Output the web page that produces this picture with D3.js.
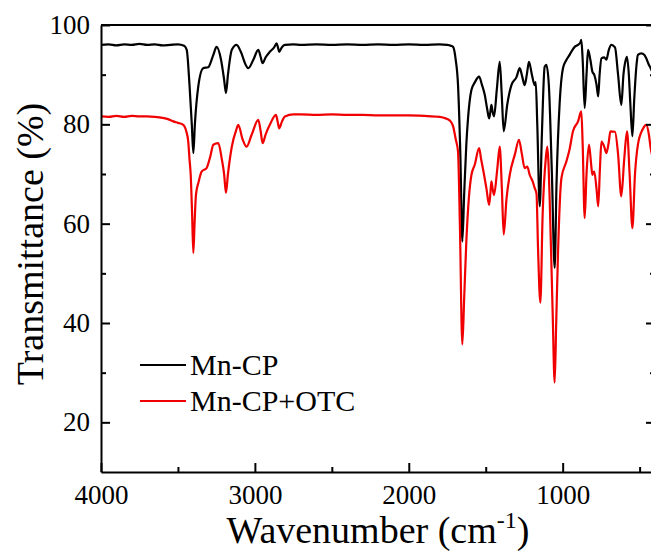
<!DOCTYPE html>
<html>
<head>
<meta charset="utf-8">
<script src="https://cdn.jsdelivr.net/npm/d3@7"></script>
</head>
<body style="margin:0">
<svg id="chart" width="651" height="556"></svg>
<script>
// Data: wavenumber (cm-1) and transmittance (%)
const mnWn = [4000, 3950, 3900, 3850, 3800, 3750, 3700, 3650, 3600, 3550, 3500, 3460, 3443, 3425, 3410, 3400, 3390, 3368, 3336, 3303,
  3270, 3249, 3220, 3200, 3188, 3175, 3150, 3119, 3090, 3060, 3043, 3010, 2978, 2962, 2950, 2930, 2903, 2875, 2859, 2850,
  2842, 2825, 2805, 2750, 2700, 2600, 2500, 2400, 2300, 2200, 2100, 2000, 1900, 1800, 1750, 1725, 1712, 1695, 1680, 1665,
  1652, 1640, 1626, 1615, 1593, 1570, 1543, 1525, 1506, 1490, 1478, 1470, 1463, 1455, 1446, 1428, 1409, 1396, 1383, 1360,
  1333, 1300, 1279, 1262, 1247, 1233, 1219, 1200, 1182, 1175, 1165, 1149, 1135, 1117, 1106, 1090, 1070, 1052, 1040, 1019,
  998, 975, 955, 922, 900, 885, 879, 870, 857, 845, 835, 820, 807, 795, 780, 769, 760, 748, 730, 716,
  700, 684, 660, 640, 619, 605, 590, 582, 570, 560, 547, 535, 520, 511, 489, 470, 457, 440, 428, 400]
const mnT = [96.0, 96.1, 95.9, 96.1, 96.0, 96.2, 96.0, 96.1, 95.9, 96.0, 96.1, 95.8, 95.0, 88, 80, 74.2, 80, 87.6, 91.3, 91.5,
  94, 95.6, 93, 89, 86.3, 90, 95, 96.0, 94.5, 92, 91.3, 93, 95.0, 93.5, 92.3, 93.5, 94.6, 95.5, 96.3, 95.5,
  94.6, 95.5, 96.0, 96.1, 96.0, 96.1, 96.0, 96.1, 96.0, 96.1, 96.0, 96.1, 96.0, 96.1, 96.0, 95.8, 95.6, 93, 87.9, 74,
  56.4, 66, 76, 81.2, 86.9, 88.5, 89.6, 88, 85.9, 83, 81.2, 82.5, 83.9, 82.5, 81.6, 87, 92.6, 86, 78.6, 84,
  87.9, 89.5, 91.3, 89.5, 87.9, 90, 92.6, 90, 87.9, 88.5, 80, 63.5, 78, 91.6, 92.0, 88, 70, 51.1, 68, 84.6,
  91.3, 93, 94.0, 95.6, 96, 96.5, 97.0, 93, 83.3, 90, 95.0, 93, 90.6, 90, 88, 85.6, 90, 93.3, 93.5, 93,
  95, 96.0, 95.5, 90, 83.9, 90, 93, 93.6, 90, 84, 77.6, 85, 92, 94.0, 94.3, 94, 93.3, 92, 91.3, 89]

const otcWn = [4000, 3950, 3900, 3850, 3800, 3750, 3700, 3650, 3600, 3560, 3530, 3500, 3466, 3445, 3433, 3425, 3417, 3408, 3400, 3392,
  3383, 3365, 3346, 3314, 3290, 3270, 3238, 3215, 3200, 3188, 3175, 3150, 3120, 3108, 3080, 3054, 3020, 2978, 2962, 2950,
  2930, 2903, 2863, 2852, 2842, 2825, 2805, 2750, 2700, 2600, 2500, 2400, 2300, 2200, 2100, 2000, 1900, 1800, 1760, 1735,
  1722, 1712, 1695, 1680, 1668, 1652, 1640, 1626, 1610, 1593, 1571, 1543, 1530, 1517, 1495, 1478, 1470, 1463, 1455, 1446,
  1425, 1409, 1395, 1383, 1365, 1344, 1310, 1284, 1265, 1247, 1230, 1214, 1195, 1182, 1170, 1160, 1145, 1130, 1110, 1100,
  1092, 1084, 1065, 1052, 1042, 1030, 1008, 976, 955, 933, 900, 879, 870, 857, 845, 829, 815, 807, 795, 780,
  769, 758, 748, 730, 716, 700, 690, 660, 640, 619, 600, 582, 565, 547, 530, 511, 480, 457, 440, 428, 400]
const otcT = [81.6, 81.5, 81.7, 81.5, 81.7, 81.6, 81.6, 81.5, 81.3, 81, 80.6, 80.3, 79.9, 78.5, 76.5, 73, 69.8, 62, 54.1, 60,
  65.8, 68.5, 70.5, 71.2, 73.5, 75.9, 76.2, 73, 70, 66.2, 70, 75.5, 79, 79.9, 77, 75.5, 78, 80.9, 78.5, 76.2,
  78, 79.9, 81.9, 80.5, 79.2, 80.5, 81.6, 82.0, 82.0, 81.9, 82.0, 81.9, 81.9, 81.8, 81.8, 81.8, 81.7, 81.5, 81.2, 80.8,
  80.3, 79.6, 77, 74.5, 60, 35.7, 45, 56.4, 65, 69.8, 71.9, 75.2, 73, 70.9, 67, 63.8, 66, 68.5, 67, 65.8,
  71, 75.5, 67, 57.8, 65, 69.8, 74, 76.9, 74, 71.2, 71.5, 69.8, 68.5, 67.2, 66, 55, 44.1, 62, 73, 75.5,
  72, 64.5, 42, 28, 40, 54.4, 69.2, 72.5, 75, 78.6, 80.6, 82.6, 76, 61.1, 70, 75.9, 72, 69.8, 70.5, 67,
  63.5, 71, 76.5, 75.5, 74.2, 76.5, 78.6, 78.5, 74, 65.5, 73, 78.6, 70, 59.1, 70, 75.9, 79, 79.9, 78, 75.2, 72]

const seriesNames = ['Mn-CP', 'Mn-CP+OTC']
const seriesColors = ['#000000', '#f00000']
const xMajorTicks = [4000, 3000, 2000, 1000]
const xMinorTicks = [3500, 2500, 1500, 500]
const yMajorTicks = [20, 40, 60, 80, 100]
const yMinorTicks = [30, 50, 70, 90]

const dims = { width: 651, height: 556, left: 101, top: 25, right: 655, bottom: 472 }

const series = [
  mnWn.map((w, i) => ({ wn: w, t: mnT[i] })),
  otcWn.map((w, i) => ({ wn: w, t: otcT[i] }))
]

const xScale = d3.scaleLinear().domain([4000, 400]).range([dims.left, dims.right])
const yScale = d3.scaleLinear().domain([10, 100]).range([dims.bottom, dims.top])

const svg = d3.select('#chart')

svg.append('clipPath').attr('id', 'plotClip')
  .append('rect')
  .attr('x', dims.left).attr('y', dims.top)
  .attr('width', dims.right - dims.left).attr('height', dims.bottom - dims.top)

const lineGen = d3.line()
  .curve(d3.curveMonotoneX)
  .x(d => xScale(d.wn))
  .y(d => yScale(d.t))

const lineGroup = svg.append('g').attr('clip-path', 'url(#plotClip)')
series.forEach((s, i) => {
  lineGroup.append('path')
    .datum(s)
    .attr('d', lineGen)
    .attr('fill', 'none')
    .attr('stroke', seriesColors[i])
    .attr('stroke-width', 2.2)
    .attr('stroke-linejoin', 'round')
})

// axes, ticks pointing inward
const fmt = d3.format('d')
const addAxis = (axis, transform, minor) => {
  const g = svg.append('g')
    .attr('transform', transform)
    .call(axis)
  if (minor) g.select('.domain').remove()
  g.selectAll('path, line').attr('stroke', '#000').attr('stroke-width', 2)
  return g
}
addAxis(d3.axisBottom(xScale).tickValues(xMajorTicks).tickFormat(fmt).tickSize(-9).tickPadding(13).tickSizeOuter(0), `translate(0,${dims.bottom})`)
addAxis(d3.axisBottom(xScale).tickValues(xMinorTicks).tickSize(-5).tickFormat('').tickSizeOuter(0), `translate(0,${dims.bottom})`, true)
addAxis(d3.axisLeft(yScale).tickValues(yMajorTicks).tickFormat(fmt).tickSize(-9).tickPadding(11).tickSizeOuter(0), `translate(${dims.left},0)`)
addAxis(d3.axisLeft(yScale).tickValues(yMinorTicks).tickSize(-5).tickFormat('').tickSizeOuter(0), `translate(${dims.left},0)`, true)
// right axis (mirror)
addAxis(d3.axisRight(yScale).tickValues(yMajorTicks).tickSize(-9).tickFormat('').tickSizeOuter(0), `translate(${dims.right},0)`)
addAxis(d3.axisRight(yScale).tickValues(yMinorTicks).tickSize(-5).tickFormat('').tickSizeOuter(0), `translate(${dims.right},0)`, true)

svg.selectAll('g').attr('font-family', null).attr('font-size', null)
svg.selectAll('g text').style('font-size', '27px')

// top frame
svg.append('line')
  .attr('x1', dims.left).attr('x2', dims.right)
  .attr('y1', dims.top).attr('y2', dims.top)
  .attr('stroke', '#000').attr('stroke-width', 2)

// axis titles
const xLabel = svg.append('text')
  .attr('x', (dims.left + dims.right) / 2)
  .attr('y', 543)
  .attr('text-anchor', 'middle')
  .style('font-size', '38px')
xLabel.append('tspan').text('Wavenumber (cm')
xLabel.append('tspan').text('-1').style('font-size', '24px').attr('dy', -15)
xLabel.append('tspan').text(')').attr('dy', 15)

svg.append('text')
  .text('Transmittance (%)')
  .attr('text-anchor', 'middle')
  .attr('transform', 'translate(43,244) rotate(-90)')
  .style('font-size', '38px')

// legend
seriesNames.forEach((name, i) => {
  const y = 365 + i * 36
  svg.append('line')
    .attr('x1', 140).attr('x2', 186)
    .attr('y1', y).attr('y2', y)
    .attr('stroke', seriesColors[i])
    .attr('stroke-width', 2.2)
  svg.append('text')
    .text(name)
    .attr('x', 190)
    .attr('y', y + 10)
    .style('font-size', '30px')
})

svg.selectAll('text')
  .style('font-family', "'Liberation Serif', 'Times New Roman', serif")
  .style('fill', '#000')
</script>
</body>
</html>
